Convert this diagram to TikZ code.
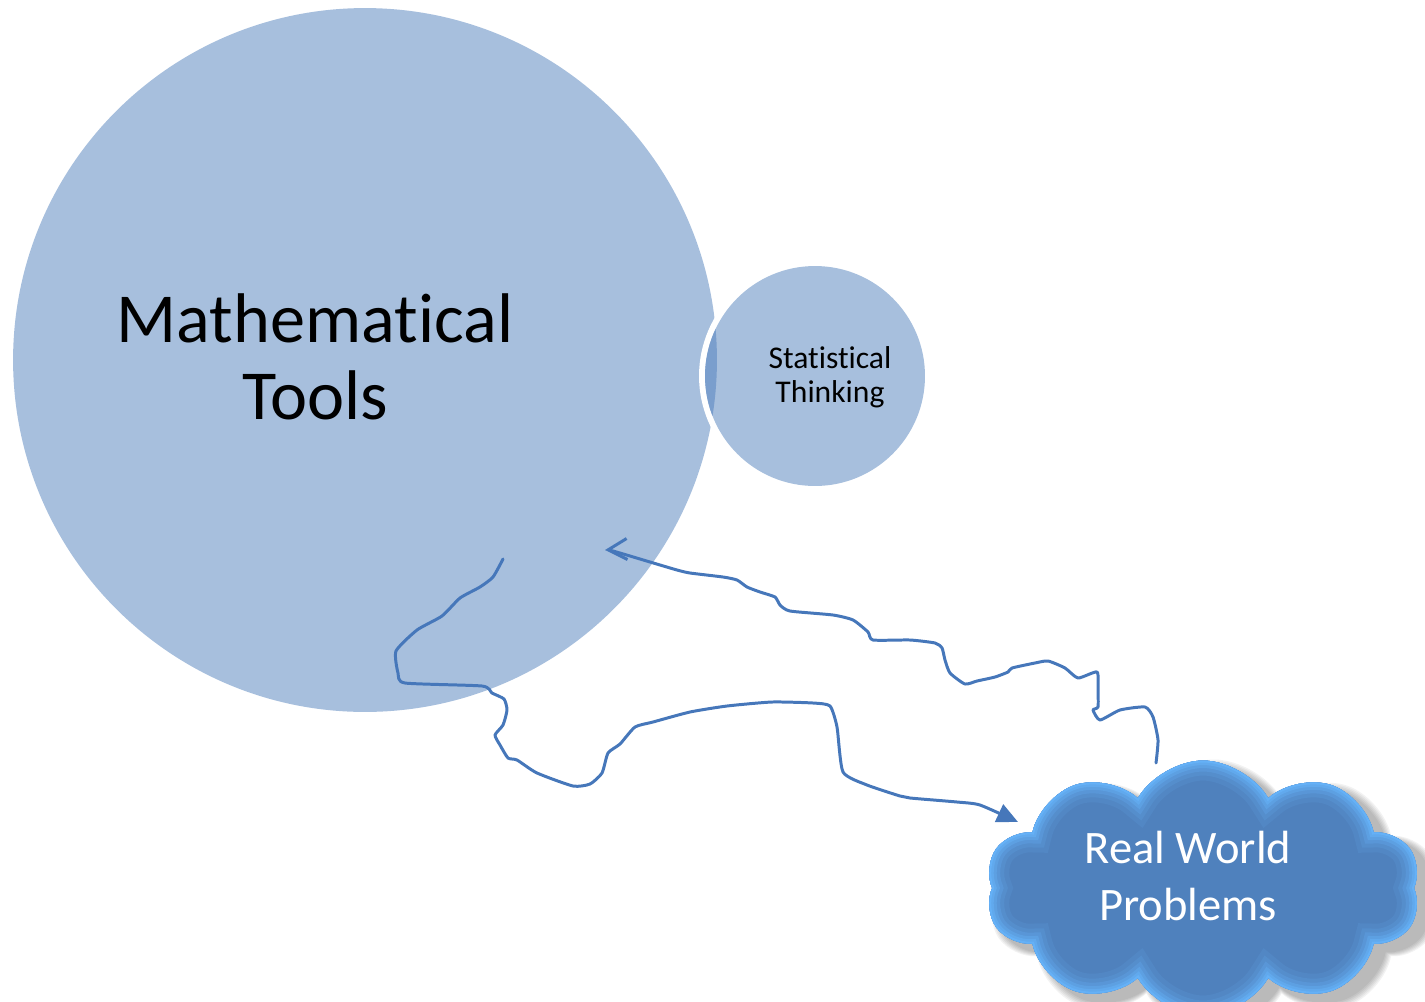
\documentclass[tikz,border=0pt]{standalone}
\usepackage{fontspec}
\setmainfont{Carlito}[Ligatures=NoCommon]
\usetikzlibrary{shapes.symbols,arrows.meta}
\definecolor{circfill}{HTML}{A7BFDD}
\definecolor{ovlfill}{HTML}{7A9ECD}
\definecolor{linecol}{HTML}{4677BA}
\definecolor{cloudfill}{HTML}{4F81BD}
\definecolor{cloudrim}{HTML}{66B4FA}
\tikzset{
  cloudshape/.style={cloud, cloud puffs=10, cloud puff arc=120, inner sep=0pt,
    minimum width=8.7cm, minimum height=5.1cm},
  conn/.style={draw=linecol, line width=1.7pt, line cap=round, line join=round},
  bigtext/.style={align=center, font=\fontsize{40}{44}\selectfont},
  smalltext/.style={align=center, font=\fontsize{18}{19.5}\selectfont},
  cloudtext/.style={align=center, text=white, font=\fontsize{26.5}{32}\selectfont},
}
\begin{document}
\begin{tikzpicture}[x=0.02cm, y=-0.02cm]
\useasboundingbox (0,0) rectangle (1425,1001);
\clip (0,0) rectangle (1425,1001);
% big circle
\node[circle, fill=circfill, minimum size=14.08cm, inner sep=0pt] (mt) at (365,360) {};
% small circle with white ring
\fill[white] (815,376) circle[radius=2.32cm];
\node[circle, fill=circfill, minimum size=4.4cm, inner sep=0pt] (st) at (815,376) {};
\begin{scope}
  \clip (st.center) circle[radius=2.2cm];
  \fill[ovlfill] (mt.center) circle[radius=7.04cm];
\end{scope}
\node[bigtext] (mtt) at (315,357) {Mathematical\\Tools};
\node[smalltext] (stt) at (830,377) {Statistical\\Thinking};
% connectors
\coordinate (a1) at (605,550);
\coordinate (c1) at (1156,763);
\coordinate (s2) at (503,559);
\coordinate (e2) at (1018,822);
\draw[conn, {Straight Barb[length=0.38cm, width=0.42cm, line width=1.7pt]}-] plot[smooth, tension=0.35] coordinates {
  (a1) (613,551) (650,562) (677,570) (690,573) (723,577) (737,580) (747,587) (760,592)
  (775,597) (780,605) (790,611) (833,615) (853,620) (868,632) (873,640) (910,640)
  (935,643) (942,648) (945,660) (950,673) (965,684) (977,681) (995,677) (1008,672)
  (1012,668) (1035,663) (1048,661) (1065,668) (1078,678) (1097,672) (1098,690)
  (1098,707) (1093,710) (1100,720) (1120,710) (1145,707) (1153,717) (1158,740) (c1)};
\draw[conn, -{Triangle[length=0.42cm, width=0.38cm]}] plot[smooth, tension=0.35] coordinates {
  (s2) (493,577) (480,587) (460,598) (442,616) (417,630) (396,651) (398,673) (405,683)
  (482,686) (492,693) (504,699) (507,710) (503,725) (495,735) (500,745) (508,758)
  (517,760) (537,773) (573,786) (590,784) (602,773) (608,753) (620,744) (635,727)
  (653,722) (690,712) (727,706) (772,702) (813,703) (830,706) (837,727) (843,772)
  (867,785) (900,796) (910,798) (957,802) (980,805) (e2)};
% cloud shadow
\foreach \i in {1,...,6}
  \node[cloudshape, fill=black, fill opacity=0.05, minimum width=8.7cm+\i*0.06cm,
        minimum height=5.1cm+\i*0.06cm] (sh\i) at (1214,896) {};
% cloud
\node[cloudshape, fill=cloudfill,
  path picture={
    \foreach \w/\c in {40/12,30/25,22/42,15/60,9/78,4/95}
      \node[cloudshape, draw=cloudrim!\c!cloudfill, line width=\w*0.02cm]
        at (path picture bounding box.center) {};
  }] (rw) at (1203,888) {};
\node[cloudtext] (rwt) at (1188,876) {Real World\\Problems};
\end{tikzpicture}
\end{document}
